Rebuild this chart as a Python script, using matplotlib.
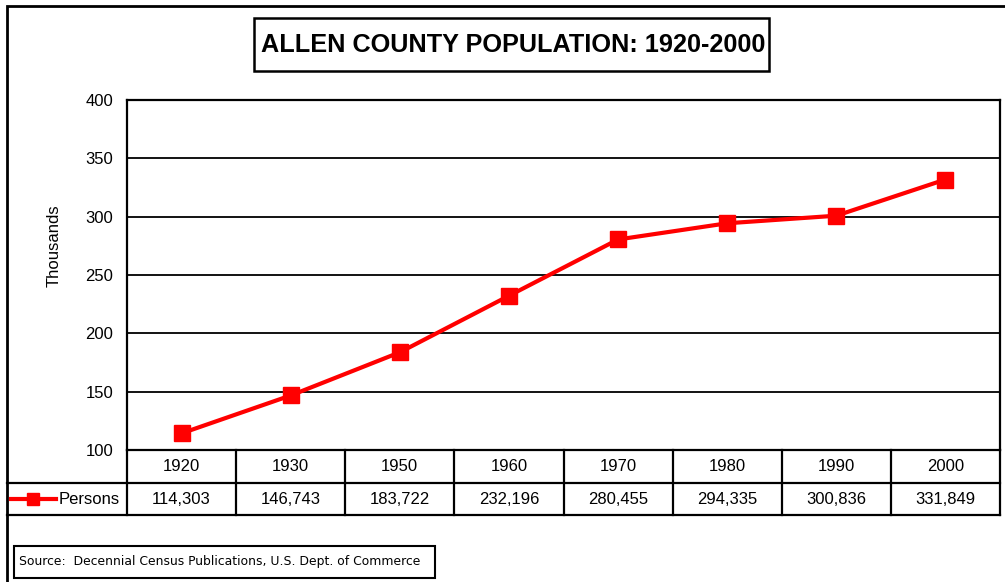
import numpy as np
import matplotlib.pyplot as plt
import matplotlib.transforms as mtransforms
from matplotlib.lines import Line2D
from matplotlib.patches import Rectangle

years = ['1920', '1930', '1950', '1960', '1970', '1980', '1990', '2000']
persons = [114303, 146743, 183722, 232196, 280455, 294335, 300836, 331849]
series_name = 'Persons'
title = 'ALLEN COUNTY POPULATION: 1920-2000'
source = 'Source:  Decennial Census Publications, U.S. Dept. of Commerce'
y_ticks = [100, 150, 200, 250, 300, 350, 400]

W, H = 1005, 582
plt.rcParams['font.family'] = ['Liberation Sans', 'DejaVu Sans']

fig = plt.figure(figsize=(W / 100, H / 100), dpi=100)


def fx(x):
    return x / W


def fy(y):
    return 1 - y / H


# plot area in pixels
L, R, T, B = 127, 1000, 100, 450
ax = fig.add_axes([fx(L), fy(B), fx(R - L), (B - T) / H])

xs = np.arange(len(years))
vals = np.array(persons) / 1000.0
ax.plot(xs, vals, color='#ff0000', lw=3, marker='s', ms=12,
        markerfacecolor='#ff0000', markeredgecolor='#ff0000', zorder=3)
ax.set_xlim(-0.5, len(years) - 0.5)
ax.set_ylim(100, 400)
ax.set_yticks(y_ticks)
ax.set_yticklabels([str(v) for v in y_ticks], fontsize=12)
ax.set_xticks([])
ax.tick_params(axis='y', length=0, pad=10)
for v in y_ticks:
    ax.axhline(v, color='black', lw=1.3, zorder=1)
for s in ax.spines.values():
    s.set_linewidth(1.6)
ax.set_ylabel('Thousands', fontsize=12)
ax.yaxis.set_label_coords((62 - L) / (R - L), (B - 246) / (B - T))

# outer frame
fig.add_artist(Rectangle((fx(7), fy(600)), fx(1100), (600 - 6) / H,
                         transform=fig.transFigure, fill=False,
                         lw=2, ec='black'))

# title box
fig.add_artist(Rectangle((fx(254), fy(71)), fx(769 - 254), (71 - 18) / H,
                         transform=fig.transFigure, fill=False,
                         lw=1.8, ec='black'))
fig.text(fx(513), fy(45), title, ha='center', va='center',
         fontsize=18.2, fontweight='bold')

# data table
row1_top, row1_bot, row2_bot = 450, 483, 515
blend = mtransforms.blended_transform_factory(ax.transData, fig.transFigure)
lw_t = 1.6
fig.add_artist(Line2D([fx(L), fx(L)], [fy(row1_top), fy(row2_bot)],
                      transform=fig.transFigure, color='black', lw=lw_t))
fig.add_artist(Line2D([fx(R), fx(R)], [fy(row1_top), fy(row2_bot)],
                      transform=fig.transFigure, color='black', lw=lw_t))
fig.add_artist(Line2D([fx(7), fx(R)], [fy(row1_bot), fy(row1_bot)],
                      transform=fig.transFigure, color='black', lw=lw_t))
fig.add_artist(Line2D([fx(7), fx(R)], [fy(row2_bot), fy(row2_bot)],
                      transform=fig.transFigure, color='black', lw=lw_t))
for i in range(1, len(years)):
    fig.add_artist(Line2D([i - 0.5, i - 0.5], [fy(row1_top), fy(row2_bot)],
                          transform=blend, color='black', lw=lw_t))
for i, (yr, p) in enumerate(zip(years, persons)):
    fig.text(i, fy((row1_top + row1_bot) / 2), yr, transform=blend,
             ha='center', va='center', fontsize=12)
    fig.text(i, fy((row1_bot + row2_bot) / 2), f'{p:,}', transform=blend,
             ha='center', va='center', fontsize=12)

# legend key in table
ymid = fy((row1_bot + row2_bot) / 2)
fig.add_artist(Line2D([fx(11), fx(56)], [ymid, ymid], transform=fig.transFigure,
                      color='#ff0000', lw=3))
fig.add_artist(Line2D([fx(33)], [ymid], transform=fig.transFigure,
                      color='#ff0000', marker='s', ms=9))
fig.text(fx(59), ymid, series_name, ha='left', va='center', fontsize=12)

# source box
fig.add_artist(Rectangle((fx(14), fy(578)), fx(435 - 14), (578 - 546) / H,
                         transform=fig.transFigure, fill=False,
                         lw=1.5, ec='black'))
fig.text(fx(19), fy(562), source, ha='left', va='center', fontsize=8.9,
         family='DejaVu Sans')

fig.savefig('out.png', dpi=100)
